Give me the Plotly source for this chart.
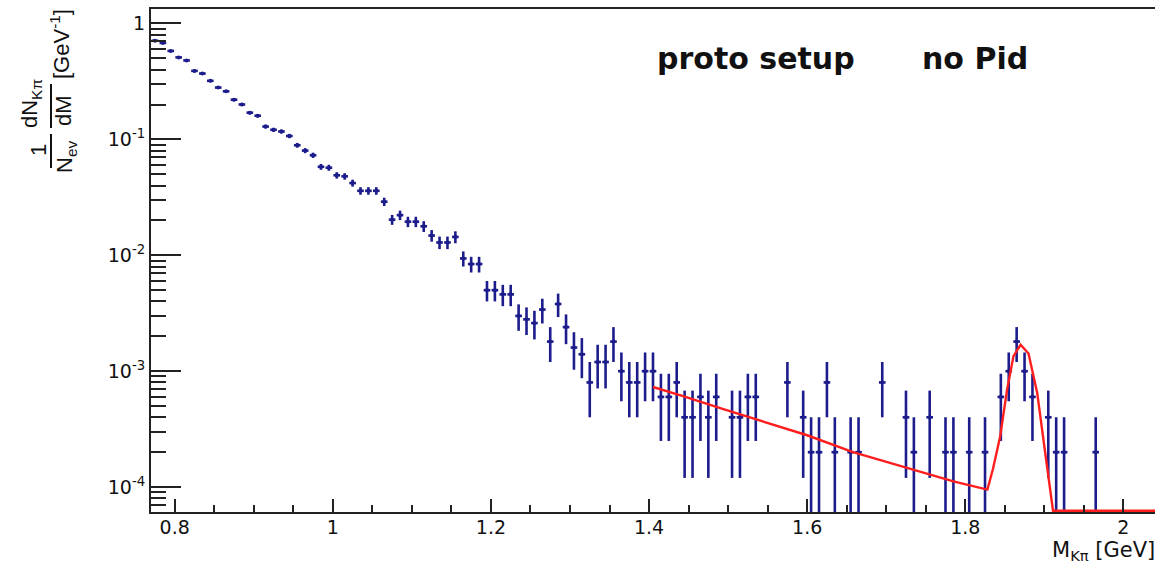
import plotly.graph_objects as go

# ---------------- data ----------------
mass = [0.775, 0.785, 0.795, 0.805, 0.815, 0.825, 0.835, 0.845, 0.855, 0.865,
        0.875, 0.885, 0.895, 0.905, 0.915, 0.925, 0.935, 0.945, 0.955, 0.965,
        0.975, 0.985, 0.995, 1.005, 1.015, 1.025, 1.035, 1.045, 1.055, 1.065,
        1.075, 1.085, 1.095, 1.105, 1.115, 1.125, 1.135, 1.145, 1.155, 1.165,
        1.175, 1.185, 1.195, 1.205, 1.215, 1.225, 1.235, 1.245, 1.255, 1.265,
        1.275, 1.285, 1.295, 1.305, 1.315, 1.325, 1.335, 1.345, 1.355, 1.365,
        1.375, 1.385, 1.395, 1.405, 1.415, 1.425, 1.435, 1.445, 1.455, 1.465,
        1.475, 1.485, 1.505, 1.515, 1.525, 1.535, 1.575, 1.595, 1.605, 1.615,
        1.625, 1.635, 1.655, 1.665, 1.695, 1.725, 1.735, 1.755, 1.775, 1.785,
        1.805, 1.825, 1.845, 1.855, 1.865, 1.875, 1.885, 1.905, 1.915, 1.925,
        1.965]

dndm = [0.71, 0.68, 0.58, 0.51, 0.48, 0.39, 0.37, 0.32, 0.28, 0.26,
        0.22, 0.20, 0.17, 0.16, 0.129, 0.121, 0.117, 0.107, 0.089, 0.080,
        0.073, 0.058, 0.057, 0.049, 0.048, 0.042, 0.036, 0.036, 0.036, 0.029,
        0.0203, 0.0222, 0.0195, 0.0195, 0.0178, 0.0148, 0.0129, 0.0129, 0.0144, 0.0094,
        0.0084, 0.0084, 0.0050, 0.0050, 0.0046, 0.0046, 0.0030, 0.0028, 0.0026, 0.0034,
        0.0018, 0.0038, 0.0024, 0.0016, 0.0014, 0.0008, 0.0012, 0.0012, 0.0018, 0.0010,
        0.0008, 0.0008, 0.0010, 0.0010, 0.0006, 0.0006, 0.0008, 0.0004, 0.0004, 0.0006,
        0.0004, 0.0006, 0.0004, 0.0004, 0.0006, 0.0006, 0.0008, 0.0004, 0.0002, 0.0002,
        0.0008, 0.0002, 0.0002, 0.0002, 0.0008, 0.0004, 0.0002, 0.0004, 0.0002, 0.0002,
        0.0002, 0.0002, 0.0006, 0.0010, 0.0018, 0.0010, 0.0006, 0.0004, 0.0002, 0.0002,
        0.0002]

dndm_err = [0.0119, 0.0117, 0.0108, 0.0101, 0.0098, 0.0088, 0.0086, 0.0080, 0.0075, 0.0072,
            0.0066, 0.0063, 0.0058, 0.0057, 0.0051, 0.0049, 0.0048, 0.0046, 0.0042, 0.0040,
            0.0038, 0.0034, 0.0034, 0.0031, 0.0031, 0.0029, 0.0027, 0.0027, 0.0027, 0.0024,
            0.0020, 0.0021, 0.0020, 0.0020, 0.0019, 0.0017, 0.0016, 0.0016, 0.0017, 0.0014,
            0.0013, 0.0013, 0.0010, 0.0010, 0.00096, 0.00096, 0.00077, 0.00075, 0.00072, 0.00082,
            0.00060, 0.00087, 0.00069, 0.00057, 0.00053, 0.00040, 0.00049, 0.00049, 0.00060, 0.00045,
            0.00040, 0.00040, 0.00045, 0.00045, 0.00035, 0.00035, 0.00040, 0.00028, 0.00028, 0.00035,
            0.00028, 0.00035, 0.00028, 0.00028, 0.00035, 0.00035, 0.00040, 0.00028, 0.00020, 0.00020,
            0.00040, 0.00020, 0.00020, 0.00020, 0.00040, 0.00028, 0.00020, 0.00028, 0.00020, 0.00020,
            0.00020, 0.00020, 0.00035, 0.00045, 0.00060, 0.00045, 0.00035, 0.00028, 0.00020, 0.00020,
            0.00020]

# fit curve (background + D0 peak)
fit_mass = [1.405, 1.443, 1.494, 1.537, 1.600, 1.658, 1.726, 1.785, 1.828, 1.835,
            1.844, 1.853, 1.861, 1.870, 1.880, 1.891, 1.900, 1.911, 2.040]
fit_val = [7.3e-4, 6.1e-4, 4.7e-4, 3.8e-4, 2.8e-4, 2.0e-4, 1.47e-4, 1.12e-4, 9.5e-5, 1.43e-4,
           2.7e-4, 7.0e-4, 1.35e-3, 1.69e-3, 1.42e-3, 6.5e-4, 2.25e-4, 6.25e-5, 6.25e-5]

x_ticks = [0.8, 1.0, 1.2, 1.4, 1.6, 1.8, 2.0]
x_tick_text = ["0.8", "1", "1.2", "1.4", "1.6", "1.8", "2"]
y_ticks = [1e-4, 1e-3, 1e-2, 1e-1, 1]
y_tick_text = ["10<sup>-4</sup>", "10<sup>-3</sup>", "10<sup>-2</sup>", "10<sup>-1</sup>", "1"]

# ---------------- layout geometry ----------------
W, H = 1158, 565
L, R, T, B = 151, 3, 9, 53
PW, PH = W - L - R, H - T - B

def px(xp):
    return (xp - L) / PW

def py(yp):
    return (H - B - yp) / PH

NAVY = "#1c1c8c"
RED = "#ff1e1e"
AX = "#222222"

fig = go.Figure()

fig.add_trace(go.Scatter(
    x=mass, y=dndm, mode="markers",
    marker=dict(color=NAVY, size=4, symbol="circle"),
    error_y=dict(type="data", array=dndm_err, symmetric=True,
                 color=NAVY, thickness=2.6, width=0),
    error_x=dict(type="constant", value=0.0042, color=NAVY, thickness=2.6, width=0),
    showlegend=False, cliponaxis=True,
))

fig.add_trace(go.Scatter(
    x=fit_mass, y=fit_val, mode="lines",
    line=dict(color=RED, width=2.4),
    showlegend=False,
))

minor_y = [m * 10 ** e for e in range(-5, 1) for m in range(2, 10)]

fig.update_xaxes(
    range=[0.77, 2.04], showline=True, linecolor=AX, linewidth=2, mirror=True,
    tickmode="array", tickvals=x_ticks, ticktext=x_tick_text,
    ticks="inside", ticklen=13, tickwidth=1.5, tickcolor=AX,
    minor=dict(tickmode="linear", tick0=0.8, dtick=0.05, ticks="inside",
               ticklen=7, tickwidth=1.5, tickcolor=AX),
    showgrid=False, zeroline=False, ticklabelstandoff=-3,
    tickfont=dict(family="DejaVu Sans", size=19, color="#111111"),
)
fig.update_yaxes(
    type="log", range=[-4.215, 0.125], showline=True, linecolor=AX, linewidth=2,
    tickmode="array", tickvals=y_ticks, ticktext=y_tick_text,
    ticks="inside", ticklen=30, tickwidth=1.5, tickcolor=AX,
    minor=dict(tickmode="array", tickvals=minor_y, ticks="inside",
               ticklen=15, tickwidth=1.5, tickcolor=AX),
    showgrid=False, zeroline=False,
    tickfont=dict(family="DejaVu Sans", size=19, color="#111111"),
)

annots = []
TF = dict(family="DejaVu Sans", size=30, color="#111111", weight="bold")
annots.append(dict(x=px(756), y=py(58), xref="paper", yref="paper", text="<b>proto setup</b>",
                   showarrow=False, font=TF, xanchor="center", yanchor="middle"))
annots.append(dict(x=px(975), y=py(58), xref="paper", yref="paper", text="<b>no Pid</b>",
                   showarrow=False, font=TF, xanchor="center", yanchor="middle"))
# x-axis title
annots.append(dict(x=px(1156), y=py(565), xref="paper", yref="paper",
                   text="M<sub>Kπ</sub> [GeV]", showarrow=False, borderpad=0,
                   font=dict(family="DejaVu Sans", size=21, color="#111111"),
                   xanchor="right", yanchor="bottom"))
# y-axis title (stacked fractions, rotated)
YF = dict(family="Liberation Sans", size=22, color="#111111")
for txt, cx, cy in [("[GeV<sup>-1</sup>]", 60, 44),
                    ("dN<sub>Kπ</sub>", 31, 104),
                    ("dM", 63, 111),
                    ("1", 38, 150),
                    ("N<sub>ev</sub>", 66, 157)]:
    annots.append(dict(x=px(cx), y=py(cy), xref="paper", yref="paper", text=txt,
                       textangle=-90, showarrow=False, font=YF,
                       xanchor="center", yanchor="middle"))
fig.update_layout(annotations=annots)

shapes = []
for y0, y1 in [(84, 128), (134, 168)]:
    shapes.append(dict(type="line", xref="paper", yref="paper",
                       x0=px(51), x1=px(51), y0=py(y0), y1=py(y1),
                       line=dict(color="#111111", width=2)))
fig.update_layout(shapes=shapes)

fig.update_layout(
    width=W, height=H,
    margin=dict(l=L, r=R, t=T, b=B),
    paper_bgcolor="white", plot_bgcolor="white",
)

fig.write_html("out.html")
